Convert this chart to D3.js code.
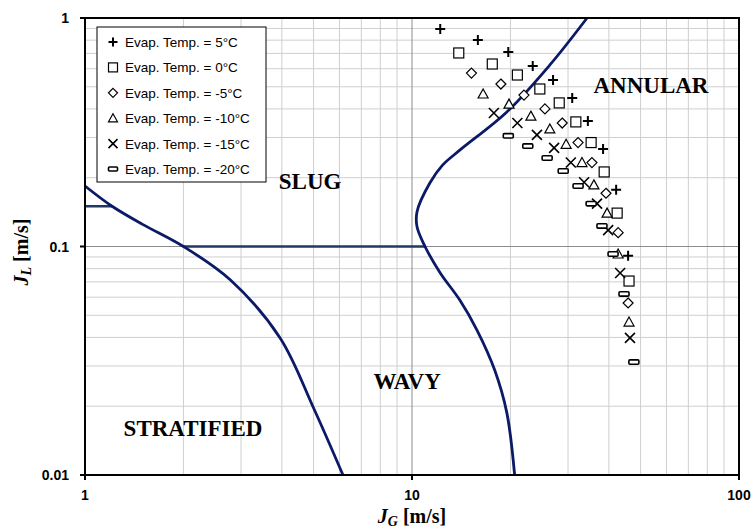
<!DOCTYPE html>
<html>
<head>
  <meta charset="utf-8">
  <script src="https://d3js.org/d3.v7.min.js"></script>
  <style>
    body { margin: 0; background: #fff; }
  </style>
</head>
<body>
<script>
// series legend labels
var seriesNames = ["Evap. Temp. = 5°C", "Evap. Temp. = 0°C", "Evap. Temp. = -5°C",
                   "Evap. Temp. = -10°C", "Evap. Temp. = -15°C", "Evap. Temp. = -20°C"];
var seriesSymbols = ["plus", "square", "diamond", "triangle", "cross", "dash"];

// measured points, JG [m/s] and JL [m/s]
var jg5   = [12.2, 15.9, 19.7, 23.4, 27.0, 30.9, 34.5, 38.4, 42.1, 45.8];
var jl5   = [0.895, 0.801, 0.71, 0.617, 0.535, 0.447, 0.354, 0.267, 0.177, 0.091];
var jg0   = [13.9, 17.6, 21.0, 24.6, 28.2, 31.7, 35.3, 38.7, 42.4, 46.1];
var jl0   = [0.703, 0.629, 0.563, 0.489, 0.425, 0.351, 0.285, 0.212, 0.140, 0.0706];
var jgM5  = [15.2, 18.7, 22.0, 25.5, 28.8, 32.2, 35.5, 39.2, 42.7, 45.8];
var jlM5  = [0.574, 0.514, 0.46, 0.40, 0.347, 0.285, 0.233, 0.171, 0.115, 0.0566];
var jgM10 = [16.5, 19.8, 23.1, 26.4, 29.6, 33.1, 36.0, 39.5, 42.7, 46.1];
var jlM10 = [0.465, 0.42, 0.372, 0.327, 0.28, 0.233, 0.186, 0.14, 0.0927, 0.0467];
var jgM15 = [17.8, 21.0, 24.1, 27.2, 30.6, 33.6, 36.8, 39.8, 43.3, 46.4];
var jlM15 = [0.384, 0.347, 0.308, 0.27, 0.233, 0.191, 0.154, 0.118, 0.0766, 0.0398];
var jgM20 = [19.7, 22.6, 25.9, 29.0, 32.2, 35.3, 38.1, 41.2, 44.5, 47.7];
var jlM20 = [0.305, 0.275, 0.244, 0.214, 0.184, 0.154, 0.123, 0.0927, 0.062, 0.0312];

// flow pattern map boundaries
var stratJG = [1, 1.21, 1.5, 2, 2.78, 3.95, 4.98, 6.15];
var stratJL = [0.184, 0.15, 0.125, 0.1, 0.0715, 0.0398, 0.0199, 0.01];
var annJG = [34.3, 26.4, 19.5, 14.0, 12.4, 11.35, 10.36, 10.36, 10.96, 12.2, 14.0, 15.8, 17.9, 19.5, 20.6];
var annJL = [1, 0.623, 0.388, 0.264, 0.227, 0.19, 0.142, 0.122, 0.1, 0.0766, 0.0583, 0.0431, 0.0288, 0.0187, 0.01];
var slugLowJG = [1, 1.21];     // short line at JL = 0.15
var slugLowJL = [0.15, 0.15];
var slugWavyJG = [2, 10.96];   // line at JL = 0.1
var slugWavyJL = [0.1, 0.1];

var regionNames = ["SLUG", "ANNULAR", "WAVY", "STRATIFIED"];
var regionJG = [4.88, 53.8, 9.66, 2.14];
var regionJL = [0.194, 0.509, 0.0258, 0.0161];

var xTicks = [1, 10, 100];
var yTicks = [0.01, 0.1, 1];

var jgAll = [jg5, jg0, jgM5, jgM10, jgM15, jgM20];
var jlAll = [jl5, jl0, jlM5, jlM10, jlM15, jlM20];

var W = 751, H = 531;
var pL = 85, pR = 739, pT = 18, pB = 475;

var svg = d3.select("body").append("svg").attr("width", W).attr("height", H);

var x = d3.scaleLog().domain([1, 100]).range([pL, pR]);
var y = d3.scaleLog().domain([0.01, 1]).range([pB, pT]);

// grid
var minorX = [], minorY = [];
[1, 10].forEach(function (d) { for (var k = 2; k <= 9; k++) minorX.push(d * k); });
[0.01, 0.1].forEach(function (d) { for (var k = 2; k <= 9; k++) minorY.push(d * k); });

var grid = svg.append("g");
grid.selectAll(".mx").data(minorX).enter().append("line")
  .attr("x1", function (d) { return x(d); }).attr("x2", function (d) { return x(d); })
  .attr("y1", pT).attr("y2", pB)
  .attr("stroke", "#cfcfcf").attr("stroke-width", 1);
grid.selectAll(".my").data(minorY).enter().append("line")
  .attr("y1", function (d) { return y(d); }).attr("y2", function (d) { return y(d); })
  .attr("x1", pL).attr("x2", pR)
  .attr("stroke", "#cfcfcf").attr("stroke-width", 1);
grid.selectAll(".Mx").data([10]).enter().append("line")
  .attr("x1", function (d) { return x(d); }).attr("x2", function (d) { return x(d); })
  .attr("y1", pT).attr("y2", pB)
  .attr("stroke", "#8c8c8c").attr("stroke-width", 1);
grid.selectAll(".My").data([0.1]).enter().append("line")
  .attr("y1", function (d) { return y(d); }).attr("y2", function (d) { return y(d); })
  .attr("x1", pL).attr("x2", pR)
  .attr("stroke", "#8c8c8c").attr("stroke-width", 1);

// boundaries
function pts(a, b) { return a.map(function (v, i) { return [v, b[i]]; }); }
var line = d3.line().x(function (d) { return x(d[0]); }).y(function (d) { return y(d[1]); });
var smooth = d3.line().x(function (d) { return x(d[0]); }).y(function (d) { return y(d[1]); })
  .curve(d3.curveCatmullRom.alpha(0.5));

svg.append("path").attr("d", line(pts(slugLowJG, slugLowJL)))
  .attr("fill", "none").attr("stroke", "#1f3864").attr("stroke-width", 2.5);
svg.append("path").attr("d", line(pts(slugWavyJG, slugWavyJL)))
  .attr("fill", "none").attr("stroke", "#1f3864").attr("stroke-width", 2.5);
svg.append("path").attr("d", smooth(pts(stratJG, stratJL)))
  .attr("fill", "none").attr("stroke", "#0b1a66").attr("stroke-width", 2.8);
svg.append("path").attr("d", smooth(pts(annJG, annJL)))
  .attr("fill", "none").attr("stroke", "#0b1a66").attr("stroke-width", 2.8);

// markers
function drawSymbol(g, kind, cx, cy, s) {
  var h = s / 2;
  if (kind === "plus") {
    g.append("path").attr("d", "M" + (cx - h) + "," + cy + "H" + (cx + h) + "M" + cx + "," + (cy - h) + "V" + (cy + h))
      .attr("stroke", "#000").attr("stroke-width", 2);
  } else if (kind === "square") {
    g.append("rect").attr("x", cx - h).attr("y", cy - h).attr("width", s).attr("height", s)
      .attr("fill", "#fff").attr("stroke", "#000").attr("stroke-width", 1.2);
  } else if (kind === "diamond") {
    g.append("path").attr("d", "M" + cx + "," + (cy - h) + "L" + (cx + h) + "," + cy + "L" + cx + "," + (cy + h) + "L" + (cx - h) + "," + cy + "Z")
      .attr("fill", "#fff").attr("stroke", "#000").attr("stroke-width", 1.2);
  } else if (kind === "triangle") {
    g.append("path").attr("d", "M" + cx + "," + (cy - h) + "L" + (cx + h) + "," + (cy + h * 0.8) + "L" + (cx - h) + "," + (cy + h * 0.8) + "Z")
      .attr("fill", "#fff").attr("stroke", "#000").attr("stroke-width", 1.2);
  } else if (kind === "cross") {
    g.append("path").attr("d", "M" + (cx - h) + "," + (cy - h) + "L" + (cx + h) + "," + (cy + h) + "M" + (cx + h) + "," + (cy - h) + "L" + (cx - h) + "," + (cy + h))
      .attr("stroke", "#000").attr("stroke-width", 1.6);
  } else if (kind === "dash") {
    g.append("rect").attr("x", cx - h).attr("y", cy - s * 0.22).attr("width", s).attr("height", s * 0.44)
      .attr("rx", 1).attr("fill", "#fff").attr("stroke", "#000").attr("stroke-width", 1.6);
  }
}

var marks = svg.append("g");
jgAll.forEach(function (jgs, si) {
  jgs.forEach(function (v, i) {
    drawSymbol(marks, seriesSymbols[si], x(v), y(jlAll[si][i]), 10);
  });
});

// plot border
svg.append("rect").attr("x", pL).attr("y", pT).attr("width", pR - pL).attr("height", pB - pT)
  .attr("fill", "none").attr("stroke", "#000").attr("stroke-width", 2);

// ticks and labels
svg.selectAll(".xt").data(xTicks).enter().append("line")
  .attr("x1", function (d) { return x(d); }).attr("x2", function (d) { return x(d); })
  .attr("y1", pB).attr("y2", pB + 5).attr("stroke", "#000").attr("stroke-width", 2);
svg.selectAll(".yt").data(yTicks).enter().append("line")
  .attr("y1", function (d) { return y(d); }).attr("y2", function (d) { return y(d); })
  .attr("x1", pL - 5).attr("x2", pL).attr("stroke", "#000").attr("stroke-width", 2);

svg.selectAll(".xl").data(xTicks).enter().append("text")
  .attr("x", function (d) { return x(d); }).attr("y", pB + 25)
  .attr("text-anchor", "middle")
  .style("font-family", "Liberation Sans, Arial, sans-serif").style("font-size", "14px").style("font-weight", "bold")
  .text(function (d) { return d; });
svg.selectAll(".yl").data(yTicks).enter().append("text")
  .attr("x", pL - 16).attr("y", function (d) { return y(d) + 5; })
  .attr("text-anchor", "end")
  .style("font-family", "Liberation Sans, Arial, sans-serif").style("font-size", "14px").style("font-weight", "bold")
  .text(function (d) { return d; });

// axis titles
var xt = svg.append("text").attr("x", 412).attr("y", 523).attr("text-anchor", "middle")
  .style("font-family", "Liberation Serif, Times New Roman, serif").style("font-size", "20px").style("font-weight", "bold");
xt.append("tspan").style("font-style", "italic").text("J");
xt.append("tspan").style("font-style", "italic").style("font-size", "14px").attr("dy", 3).text("G");
xt.append("tspan").attr("dy", -3).text(" [m/s]");

var yt = svg.append("text").attr("transform", "translate(28,252) rotate(-90)").attr("text-anchor", "middle")
  .style("font-family", "Liberation Serif, Times New Roman, serif").style("font-size", "20px").style("font-weight", "bold");
yt.append("tspan").style("font-style", "italic").text("J");
yt.append("tspan").style("font-style", "italic").style("font-size", "14px").attr("dy", 3).text("L");
yt.append("tspan").attr("dy", -3).text(" [m/s]");

// region labels
svg.selectAll(".rg").data(regionNames).enter().append("text")
  .attr("x", function (d, i) { return x(regionJG[i]); })
  .attr("y", function (d, i) { return y(regionJL[i]); })
  .attr("text-anchor", "middle").attr("dy", "0.35em")
  .style("font-family", "Liberation Serif, Times New Roman, serif").style("font-size", "23px").style("font-weight", "bold")
  .text(function (d) { return d; });

// legend
var lg = svg.append("g");
lg.append("rect").attr("x", 97).attr("y", 27).attr("width", 169).attr("height", 155)
  .attr("fill", "#fff").attr("stroke", "#000").attr("stroke-width", 1);
seriesNames.forEach(function (n, i) {
  var ly = 42 + i * 25.4;
  drawSymbol(lg, seriesSymbols[i], 113, ly, 9);
  lg.append("text").attr("x", 125).attr("y", ly + 5)
    .style("font-family", "Liberation Sans, Arial, sans-serif").style("font-size", "13.5px")
    .text(n);
});
</script>
</body>
</html>
